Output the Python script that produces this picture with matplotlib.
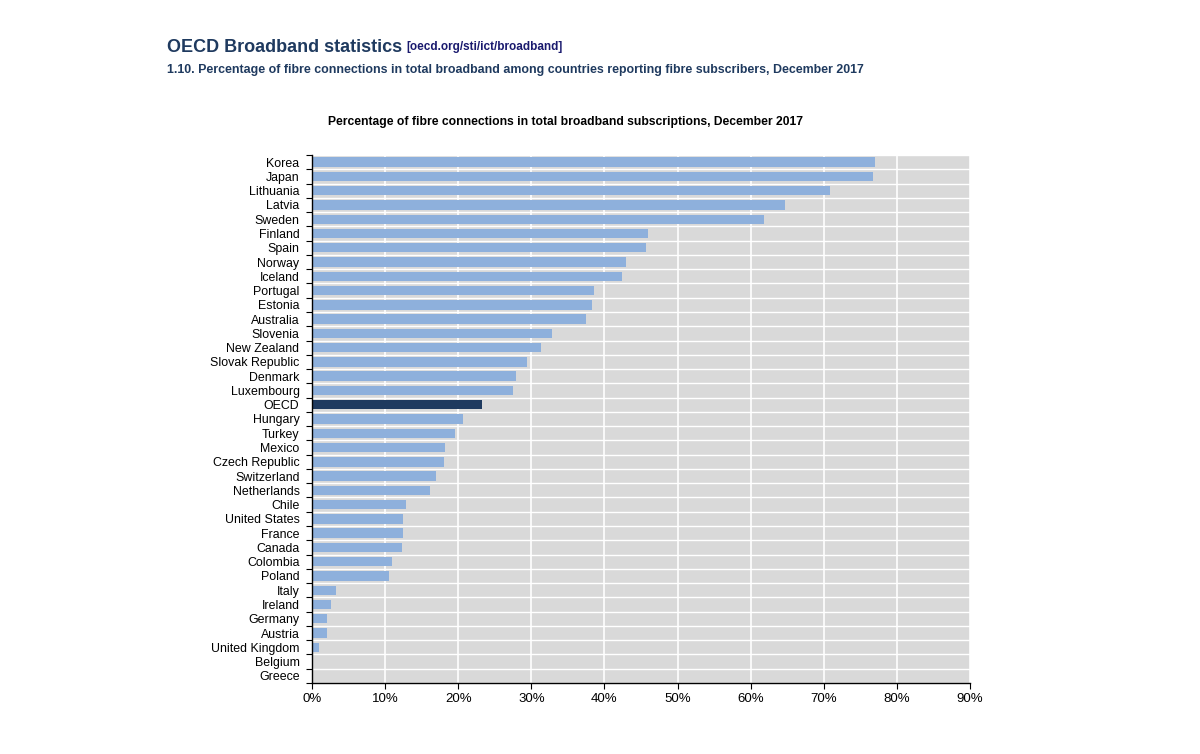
import numpy as np
import matplotlib.pyplot as plt
from matplotlib.ticker import MultipleLocator, FixedLocator, PercentFormatter

# -------------------------
# data (%)
# -------------------------
countries = ["Korea", "Japan", "Lithuania", "Latvia", "Sweden", "Finland", "Spain",
             "Norway", "Iceland", "Portugal", "Estonia", "Australia", "Slovenia",
             "New Zealand", "Slovak Republic", "Denmark", "Luxembourg", "OECD",
             "Hungary", "Turkey", "Mexico", "Czech Republic", "Switzerland",
             "Netherlands", "Chile", "United States", "France", "Canada",
             "Colombia", "Poland", "Italy", "Ireland", "Germany", "Austria",
             "United Kingdom", "Belgium", "Greece"]
fibre_share = [77.0, 76.7, 70.8, 64.7, 61.8, 45.9, 45.7,
               43.0, 42.4, 38.6, 38.3, 37.5, 32.8,
               31.3, 29.4, 27.9, 27.5, 23.2,
               20.7, 19.6, 18.2, 18.1, 16.9,
               16.1, 12.9, 12.5, 12.4, 12.3,
               10.9, 10.6, 3.3, 2.6, 2.1, 2.0,
               1.0, 0.15, 0.0]
highlight = "OECD"

plt.rcParams['font.family'] = ['Liberation Sans', 'DejaVu Sans']

bar_col = "#8EB0DC"
hi_col = "#1F3A5F"
colors = [hi_col if c == highlight else bar_col for c in countries]

fig = plt.figure(figsize=(12, 7.54), dpi=100)
ax = fig.add_axes([0.26, 0.0942, 0.5483, 0.7002])

y = np.arange(len(countries))
ax.barh(y, fibre_share, height=0.66, color=colors, zorder=3)

ax.set_facecolor("#D9D9D9")
ax.set_xlim(0, 90)
ax.set_ylim(len(countries) - 0.5, -0.5)

# x axis
ax.xaxis.set_major_locator(MultipleLocator(10))
ax.xaxis.set_major_formatter(PercentFormatter(decimals=0))
ax.tick_params(axis='x', length=4, width=0.8, labelsize=9.5, pad=3, colors='black')
ax.grid(axis='x', color='white', linewidth=1.2, zorder=1)

# y axis: tick marks on row boundaries, labels at row centres
ax.yaxis.set_major_locator(FixedLocator(np.arange(-0.5, len(countries), 1)))
ax.set_yticklabels([], minor=False)
ax.set_yticks(y, countries, minor=True)
ax.tick_params(axis='y', which='major', length=4, width=0.8)
ax.tick_params(axis='y', which='minor', length=0, labelsize=8.9, pad=9)
ax.grid(axis='y', which='major', color='white', linewidth=1.0, zorder=1)
ax.set_axisbelow(True)

for s in ['top', 'right']:
    ax.spines[s].set_visible(False)
for s in ['left', 'bottom']:
    ax.spines[s].set_linewidth(1.0)
    ax.spines[s].set_zorder(4)

# titles
head = fig.text(167 / 1200, 1 - 47 / 754, "OECD Broadband statistics", fontsize=13,
                fontweight='bold', color="#1F3A5F", va='center', ha='left')
ax.annotate("[oecd.org/sti/ict/broadband]", xy=(1, 0), xycoords=head,
            xytext=(3, 2), textcoords='offset points', fontsize=8.5,
            fontweight='bold', color="#1A1A6E", va='bottom', ha='left',
            annotation_clip=False)
fig.text(167 / 1200, 1 - 70 / 754,
         "1.10. Percentage of fibre connections in total broadband among countries "
         "reporting fibre subscribers, December 2017",
         fontsize=8.9, fontweight='bold', color="#1F3A5F", va='center', ha='left')
fig.text(565 / 1200, 1 - 122 / 754,
         "Percentage of fibre connections in total broadband subscriptions, December 2017",
         fontsize=8.7, fontweight='bold', color='black', va='center', ha='center')

fig.savefig("out.png", dpi=100, facecolor='white')
